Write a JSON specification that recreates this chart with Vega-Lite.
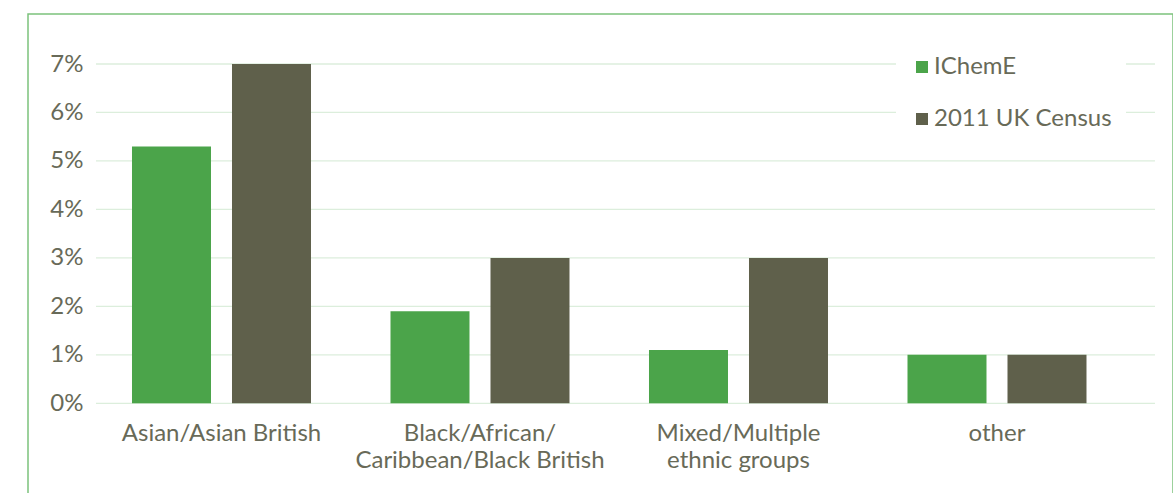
{
  "$schema": "https://vega.github.io/schema/vega-lite/v6.json",
  "width": 1145,
  "height": 489,
  "autosize": "none",
  "padding": {"left": 28, "top": 14, "right": 0, "bottom": -10},
  "background": "white",
  "config": {
    "view": {"stroke": "#7cc27c", "strokeWidth": 1.5},
    "font": "Lato"
  },
  "layer": [
    {
      "data": {"values": [{"tick": 0}, {"tick": 0.01}, {"tick": 0.02}, {"tick": 0.03}, {"tick": 0.04}, {"tick": 0.05}, {"tick": 0.06}, {"tick": 0.07}]},
      "mark": {"type": "rule", "color": "#dceedc", "strokeWidth": 1.3},
      "encoding": {
        "y": {"field": "tick", "type": "quantitative"},
        "x": {"datum": "Asian/Asian British", "bandPosition": -0.2011},
        "x2": {"datum": "other", "bandPosition": 1.3827}
      }
    },
    {
      "data": {"values": [
        {"category": "Asian/Asian British", "series": "IChemE", "value": 0.053},
        {"category": "Asian/Asian British", "series": "2011 UK Census", "value": 0.07},
        {"category": "Black/African/Caribbean/Black British", "series": "IChemE", "value": 0.019},
        {"category": "Black/African/Caribbean/Black British", "series": "2011 UK Census", "value": 0.03},
        {"category": "Mixed/Multiple ethnic groups", "series": "IChemE", "value": 0.011},
        {"category": "Mixed/Multiple ethnic groups", "series": "2011 UK Census", "value": 0.03},
        {"category": "other", "series": "IChemE", "value": 0.01},
        {"category": "other", "series": "2011 UK Census", "value": 0.01}
      ]},
      "mark": {"type": "bar"},
      "encoding": {
        "x": {
          "field": "category", "type": "nominal",
          "scale": {
            "domain": ["Asian/Asian British", "Black/African/Caribbean/Black British", "Mixed/Multiple ethnic groups", "other"],
            "paddingInner": 0.30754, "paddingOuter": 0.36847, "align": 0.5459
          },
          "axis": {
            "title": null, "orient": "bottom", "offset": -100, "domain": false, "ticks": false, "tickSize": 0,
            "labelPadding": 18, "labelAngle": 0, "labelAlign": "center", "labelLimit": 0, "labelFontSize": 24, "labelColor": "#686a58",
            "labelFont": "Lato", "labelLineHeight": 27, "labelBaseline": "top",
            "labelExpr": "datum.value == 'Black/African/Caribbean/Black British' ? ['Black/African/', 'Caribbean/Black British'] : datum.value == 'Mixed/Multiple ethnic groups' ? ['Mixed/Multiple', 'ethnic groups'] : datum.value"
          }
        },
        "xOffset": {
          "field": "series", "type": "nominal",
          "scale": {"domain": ["IChemE", "2011 UK Census"], "paddingInner": 0.21, "paddingOuter": 0}
        },
        "y": {
          "field": "value", "type": "quantitative",
          "scale": {"domain": [-0.02057, 0.080316], "nice": false, "zero": false},
          "axis": {
            "title": null, "orient": "left", "offset": -57, "domain": false, "ticks": false, "tickSize": 0, "grid": false,
            "values": [0, 0.01, 0.02, 0.03, 0.04, 0.05, 0.06, 0.07], "format": ".0%",
            "labelPadding": 2, "labelFontSize": 24, "labelColor": "#686a58", "labelFont": "Lato"
          }
        },
        "color": {
          "field": "series", "type": "nominal",
          "scale": {"domain": ["IChemE", "2011 UK Census"], "range": ["#4ba44a", "#5f604b"]},
          "legend": {
            "title": null, "orient": "none", "legendX": 868, "legendY": 27,
            "fillColor": "white", "padding": 14,
            "symbolType": "square", "symbolSize": 144, "symbolStrokeWidth": 0, "symbolOpacity": 1,
            "labelFontSize": 24, "labelColor": "#686a58", "labelFont": "Lato", "labelOffset": 0,
            "rowPadding": 28, "labelLimit": 0
          }
        }
      }
    }
  ]
}
